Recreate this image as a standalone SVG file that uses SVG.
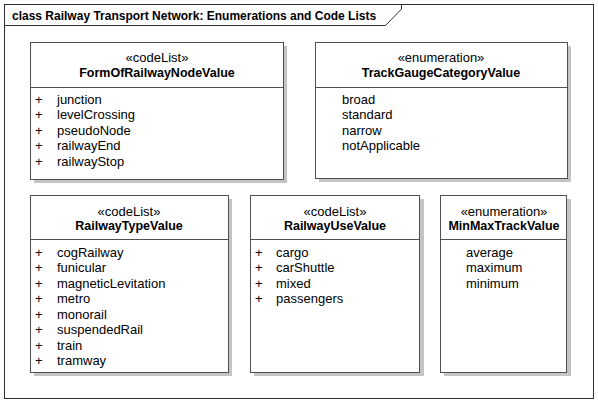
<svg xmlns="http://www.w3.org/2000/svg" width="598" height="405" viewBox="0 0 598 405">
<style>
text{font-family:"Liberation Sans",Arial,sans-serif;fill:#000}
.t{font-size:12px;font-weight:bold}
.st{font-size:13px;text-anchor:middle}
.nm{font-size:12.5px;font-weight:bold;text-anchor:middle}
.it{font-size:13px}
.box{fill:#fff;stroke:#505050;stroke-width:1}
.sh{fill:#c4c4c4}
.dv{stroke:#505050;stroke-width:1}
</style>
<rect x="0" y="0" width="598" height="405" fill="#fff"/>
<g id="frame">
<rect x="4.5" y="4.5" width="589" height="394" fill="#fff" stroke="#303030"/>
<path d="M4.5,25.5 H385.5 L401.5,9 V4.5" fill="none" stroke="#303030"/>
<text class="t" x="12" y="20">class Railway Transport Network: Enumerations and Code Lists</text>
</g>
<g id="connectors"></g>
<g id="FormOfRailwayNodeValue">
<rect class="sh" x="34" y="46" width="253" height="137"/>
<rect class="box" x="30.5" y="42.5" width="253" height="137"/>
<line class="dv" x1="30.5" y1="87.5" x2="283.5" y2="87.5"/>
<text class="st" x="157" y="62">«codeList»</text>
<text class="nm" x="157" y="77">FormOfRailwayNodeValue</text>
<text class="it" x="35" y="104">+</text><text class="it" x="57" y="104">junction</text>
<text class="it" x="35" y="119">+</text><text class="it" x="57" y="119">levelCrossing</text>
<text class="it" x="35" y="135">+</text><text class="it" x="57" y="135">pseudoNode</text>
<text class="it" x="35" y="150">+</text><text class="it" x="57" y="150">railwayEnd</text>
<text class="it" x="35" y="166">+</text><text class="it" x="57" y="166">railwayStop</text>
</g>
<g id="TrackGaugeCategoryValue">
<rect class="sh" x="319" y="46" width="252" height="136"/>
<rect class="box" x="315.5" y="42.5" width="252" height="136"/>
<line class="dv" x1="315.5" y1="87.5" x2="567.5" y2="87.5"/>
<text class="st" x="441" y="62">«enumeration»</text>
<text class="nm" x="441" y="77">TrackGaugeCategoryValue</text>
<text class="it" x="342" y="104">broad</text>
<text class="it" x="342" y="119">standard</text>
<text class="it" x="342" y="135">narrow</text>
<text class="it" x="342" y="150">notApplicable</text>
</g>
<g id="RailwayTypeValue">
<rect class="sh" x="34" y="199" width="198" height="177"/>
<rect class="box" x="30.5" y="195.5" width="198" height="177"/>
<line class="dv" x1="30.5" y1="239.5" x2="228.5" y2="239.5"/>
<text class="st" x="129" y="216">«codeList»</text>
<text class="nm" x="129" y="230">RailwayTypeValue</text>
<text class="it" x="35" y="257">+</text><text class="it" x="57" y="257">cogRailway</text>
<text class="it" x="35" y="272">+</text><text class="it" x="57" y="272">funicular</text>
<text class="it" x="35" y="288">+</text><text class="it" x="57" y="288">magneticLevitation</text>
<text class="it" x="35" y="303">+</text><text class="it" x="57" y="303">metro</text>
<text class="it" x="35" y="319">+</text><text class="it" x="57" y="319">monorail</text>
<text class="it" x="35" y="334">+</text><text class="it" x="57" y="334">suspendedRail</text>
<text class="it" x="35" y="350">+</text><text class="it" x="57" y="350">train</text>
<text class="it" x="35" y="365">+</text><text class="it" x="57" y="365">tramway</text>
</g>
<g id="RailwayUseValue">
<rect class="sh" x="254" y="199" width="170" height="177"/>
<rect class="box" x="250.5" y="195.5" width="169" height="177"/>
<line class="dv" x1="250.5" y1="239.5" x2="419.5" y2="239.5"/>
<text class="st" x="335" y="216">«codeList»</text>
<text class="nm" x="335" y="230">RailwayUseValue</text>
<text class="it" x="255" y="257">+</text><text class="it" x="276" y="257">cargo</text>
<text class="it" x="255" y="272">+</text><text class="it" x="276" y="272">carShuttle</text>
<text class="it" x="255" y="288">+</text><text class="it" x="276" y="288">mixed</text>
<text class="it" x="255" y="303">+</text><text class="it" x="276" y="303">passengers</text>
</g>
<g id="MinMaxTrackValue">
<rect class="sh" x="444" y="199" width="127" height="177"/>
<rect class="box" x="440.5" y="195.5" width="126" height="177"/>
<line class="dv" x1="440.5" y1="239.5" x2="566.5" y2="239.5"/>
<text class="st" x="504" y="216">«enumeration»</text>
<text class="nm" x="504" y="230">MinMaxTrackValue</text>
<text class="it" x="466" y="257">average</text>
<text class="it" x="466" y="272">maximum</text>
<text class="it" x="466" y="288">minimum</text>
</g>
</svg>
